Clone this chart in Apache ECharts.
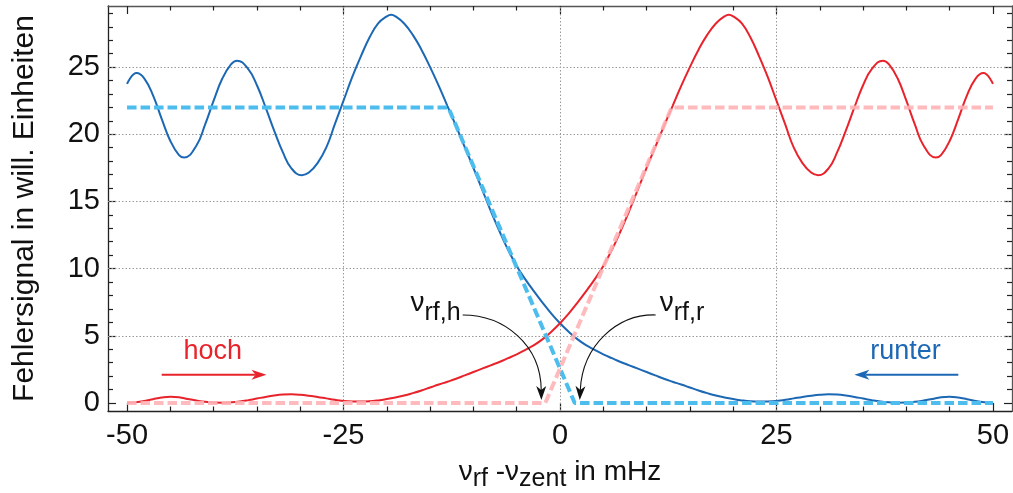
<!DOCTYPE html>
<html><head><meta charset="utf-8">
<script src="https://cdn.jsdelivr.net/npm/echarts@6.0.0/dist/echarts.min.js"></script>
<style>html,body{margin:0;padding:0;background:#fff}#c{width:1013px;height:493px}</style>
</head><body><div id="c"></div>
<script>
// ---------- data ----------
const runterX = [-50,-48.9,-48,-47,-46,-45,-44,-43.4,-42,-41,-40,-39,-38,-37.3,-36,-35,-34,-33,-32,-31,-29.8,-29,-28,-27,-26,-25,-24,-23,-22,-21,-20,-19.5,-19,-18,-17,-16,-15,-14,-13,-12,-11,-10,-9,-8,-7,-6,-5,-4,-3,-2,-1,0,1,2,3,4,5,6,7,8,9,10,11,12,13,14,15,16,17,18,19,20,21,22,23,24,25,26,27,28,29,30,31,32,33,34,35,36,37,38,39,40,41,42,43,44,45,46,47,48,49,50];
const runterSignal = [23.75,24.56,24.15,22.9,21.15,19.5,18.45,18.27,19.15,20.7,22.5,24.15,25.2,25.48,24.85,23.65,22.0,20.25,18.65,17.45,16.95,17.15,17.85,19.0,20.75,22.5,24.25,25.8,27.2,28.25,28.78,28.9,28.78,28.25,27.4,26.3,25.0,23.6,22.1,20.6,19.05,17.5,15.9,14.3,12.8,11.4,10.2,9.2,8.3,7.45,6.65,5.93,5.3,4.75,4.3,3.95,3.62,3.33,3.05,2.8,2.55,2.3,2.05,1.8,1.58,1.37,1.15,0.93,0.73,0.55,0.41,0.29,0.19,0.12,0.1,0.11,0.15,0.23,0.34,0.45,0.54,0.61,0.64,0.62,0.55,0.45,0.33,0.21,0.11,0.05,0.02,0.03,0.08,0.18,0.3,0.42,0.46,0.4,0.28,0.15,0.06,0.02];
const hochX = [-50,-49,-48,-47,-46,-45,-44,-43,-42,-41,-40,-39,-38,-37,-36,-35,-34,-33,-32,-31,-30,-29,-28,-27,-26,-25,-24,-23,-22,-21,-20,-19,-18,-17,-16,-15,-14,-13,-12,-11,-10,-9,-8,-7,-6,-5,-4,-3,-2,-1,0,1,2,3,4,5,6,7,8,9,10,11,12,13,14,15,16,17,18,19,19.5,20,21,22,23,24,25,26,27,28,29,29.8,31,32,33,34,35,36,37.3,38,39,40,41,42,43.4,44,45,46,47,48,48.9,50];
const hochSignal = [0.02,0.06,0.15,0.28,0.4,0.46,0.42,0.3,0.18,0.08,0.03,0.02,0.05,0.11,0.21,0.33,0.45,0.55,0.62,0.64,0.61,0.54,0.45,0.34,0.23,0.15,0.11,0.1,0.12,0.19,0.29,0.41,0.55,0.73,0.93,1.15,1.37,1.58,1.8,2.05,2.3,2.55,2.8,3.05,3.33,3.62,3.95,4.3,4.75,5.3,5.93,6.65,7.45,8.3,9.2,10.2,11.4,12.8,14.3,15.9,17.5,19.05,20.6,22.1,23.6,25.0,26.3,27.4,28.25,28.78,28.9,28.78,28.25,27.2,25.8,24.25,22.5,20.75,19.0,17.85,17.15,16.95,17.45,18.65,20.25,22.0,23.65,24.85,25.48,25.2,24.15,22.5,20.7,19.15,18.27,18.45,19.5,21.15,22.9,24.15,24.56,23.75];
const runterModelX = [-50, -12.9, 1.7, 50];
const runterModelY = [22, 22, 0, 0];
const hochModelX = [-50, -1.7, 12.9, 50];
const hochModelY = [0, 0, 22, 22];
const xMajorTicks = [-50, -25, 0, 25, 50];
const xMinorTicks = [-45,-40,-35,-30,-20,-15,-10,-5,5,10,15,20,30,35,40,45];
const yMajorTicks = [0, 5, 10, 15, 20, 25];
const yMinorTicks = [1,2,3,4,6,7,8,9,11,12,13,14,16,17,18,19,21,22,23,24,26,27,28,29];
const xGridLines = [-25, 0, 25];
const yGridLines = [5, 10, 15, 20, 25];

// ---------- style ----------
const FONT = "'Liberation Sans', Arial, Helvetica, sans-serif";
const XMIN = -52.2, XMAX = 52.2, YMIN = -0.6, YMAX = 29.55;
const BLUE = '#1c68b4', RED = '#e8232b', LBLUE = '#4dbdee', PINK = '#ffb3b6';

function axis(kind, pos, ticks, len, line, labels, lineColor) {
  return {
    type: 'value', position: pos,
    min: kind === 'x' ? XMIN : YMIN, max: kind === 'x' ? XMAX : YMAX,
    axisLine: { show: line, onZero: false, lineStyle: { color: lineColor || '#222', width: 1.3 } },
    axisTick: { show: true, inside: true, length: len, customValues: ticks, lineStyle: { color: '#222', width: 1.2 } },
    axisLabel: { show: !!labels, customValues: labels || ticks, fontSize: 29, color: '#111', fontFamily: FONT, margin: kind === 'x' ? 10 : 8 },
    splitLine: { show: false }, minorTick: { show: false }, minorSplitLine: { show: false }
  };
}

const xMain = axis('x', 'bottom', xMajorTicks, 8, true, xMajorTicks);
xMain.name = '{n|ν}{s|rf}{n| -ν}{s|zent}{n| in mHz}';
xMain.nameLocation = 'middle';
xMain.nameGap = 47;
xMain.nameTextStyle = {
  fontFamily: FONT, color: '#111',
  rich: {
    n: { fontSize: 28, fontFamily: FONT, color: '#111', verticalAlign: 'bottom', padding: [0, 0, 6, 0] },
    s: { fontSize: 25, fontFamily: FONT, color: '#111', verticalAlign: 'bottom' }
  }
};
const yMain = axis('y', 'left', yMajorTicks, 8, true, yMajorTicks);
yMain.name = 'Fehlersignal in will. Einheiten';
yMain.nameLocation = 'middle';
yMain.nameGap = 68;
yMain.nameTextStyle = { fontSize: 30, fontFamily: FONT, color: '#111' };

const chart = echarts.init(document.getElementById('c'), null, { renderer: 'canvas' });
const pairs = (xs, ys) => xs.map((x, i) => [x, ys[i]]);

chart.setOption({
  animation: false,
  backgroundColor: '#fff',
  grid: { left: 108, right: 1, top: 6, bottom: 82, containLabel: false, outerBoundsMode: 'none' },
  xAxis: [
    xMain,
    axis('x', 'bottom', xMinorTicks, 4.5, false, null),
    axis('x', 'top', xMajorTicks, 8, true, null, '#555'),
    axis('x', 'top', xMinorTicks, 4.5, false, null)
  ],
  yAxis: [
    yMain,
    axis('y', 'left', yMinorTicks, 5, false, null),
    axis('y', 'right', yMajorTicks, 8, true, null, '#555'),
    axis('y', 'right', yMinorTicks, 5, false, null)
  ],
  series: [
    {
      type: 'line', data: [], xAxisIndex: 0, yAxisIndex: 0, z: 1, silent: true,
      markLine: {
        z: 1, silent: true, symbol: ['none', 'none'], label: { show: false }, animation: false,
        lineStyle: { color: '#9a9a9a', type: [1.5, 2], width: 1 },
        emphasis: { disabled: true },
        data: xGridLines.map(v => ({ xAxis: v })).concat(yGridLines.map(v => ({ yAxis: v })))
      }
    },
    {
      name: 'runter', type: 'line', data: pairs(runterX, runterSignal), smooth: 0.45,
      showSymbol: false, z: 3, lineStyle: { color: BLUE, width: 2 }, itemStyle: { color: BLUE }
    },
    {
      name: 'hoch', type: 'line', data: pairs(hochX, hochSignal), smooth: 0.45,
      showSymbol: false, z: 3, lineStyle: { color: RED, width: 2 }, itemStyle: { color: RED }
    },
    {
      name: 'runterModel', type: 'line', data: pairs(runterModelX, runterModelY),
      showSymbol: false, z: 4, lineStyle: { color: LBLUE, width: 4, type: [9.5, 4] }
    },
    {
      name: 'hochModel', type: 'line', data: pairs(hochModelX, hochModelY),
      showSymbol: false, z: 4, lineStyle: { color: PINK, width: 4, type: [9.5, 4], opacity: 0.9 }
    }
  ]
});

// ---------- annotations (data coordinates) ----------
const hochArrow = [[-46, 2.1], [-33.9, 2.1]];
const runterArrow = [[46, 2.1], [34.0, 2.1]];
const hochLabelPos = [-40.1, 3.8];
const runterLabelPos = [39.9, 3.8];
const nuHPos = [-17.26, 5.73];
const nuRPos = [11.51, 5.73];
const curveH = [[-11.24, 6.55], [-6.39, 6.55], [-2.23, 4.32], [-2.15, 0.22]];
const curveR = [[11.05, 6.55], [6.66, 6.63], [2.62, 4.32], [2.28, 0.22]];

const P = v => chart.convertToPixel({ seriesIndex: 1 }, v);

function head(tip, from, L, W, color) {
  const dx = tip[0] - from[0], dy = tip[1] - from[1];
  const len = Math.hypot(dx, dy), ux = dx / len, uy = dy / len, nx = -uy, ny = ux;
  const bx = tip[0] - ux * L, by = tip[1] - uy * L;
  const notch = [tip[0] - ux * L * 0.72, tip[1] - uy * L * 0.72];
  return {
    poly: { type: 'polygon', silent: true, z: 10,
      shape: { points: [tip, [bx + nx * W / 2, by + ny * W / 2], notch, [bx - nx * W / 2, by - ny * W / 2]] },
      style: { fill: color } },
    notch
  };
}
function straightArrow(a, color) {
  const s = P(a[0]), t = P(a[1]);
  const h = head(t, s, 15, 10, color);
  return [
    { type: 'line', silent: true, z: 10, shape: { x1: s[0], y1: s[1], x2: h.notch[0], y2: h.notch[1] }, style: { stroke: color, lineWidth: 2 } },
    h.poly
  ];
}
function curvedArrow(c) {
  const p = c.map(P);
  const h = head(p[3], p[2], 14, 10, '#111');
  return [
    { type: 'bezierCurve', silent: true, z: 10,
      shape: { x1: p[0][0], y1: p[0][1], cpx1: p[1][0], cpy1: p[1][1], cpx2: p[2][0], cpy2: p[2][1], x2: h.notch[0], y2: h.notch[1] },
      style: { stroke: '#111', lineWidth: 1.1, fill: 'none' } },
    h.poly
  ];
}
function label(pos, text, color) {
  const p = P(pos);
  return { type: 'text', silent: true, z: 10, x: p[0], y: p[1],
    style: { text: text, fill: color, font: '27px ' + FONT, align: 'center', verticalAlign: 'middle' } };
}
function nuLabel(pos, sub) {
  const p = P(pos);
  return { type: 'text', silent: true, z: 10, x: p[0], y: p[1],
    style: { text: '{n|ν}{s|' + sub + '}', align: 'left', verticalAlign: 'bottom',
      rich: {
        n: { fontSize: 28, fontFamily: FONT, fill: '#111', verticalAlign: 'bottom', padding: [0, 0, 9, 0] },
        s: { fontSize: 25, fontFamily: FONT, fill: '#111', verticalAlign: 'bottom' }
      } } };
}

chart.setOption({
  graphic: [].concat(
    straightArrow(hochArrow, RED),
    straightArrow(runterArrow, BLUE),
    [label(hochLabelPos, 'hoch', RED), label(runterLabelPos, 'runter', BLUE)],
    curvedArrow(curveH), curvedArrow(curveR),
    [nuLabel(nuHPos, 'rf,h'), nuLabel(nuRPos, 'rf,r')]
  )
});
</script>
</body></html>
